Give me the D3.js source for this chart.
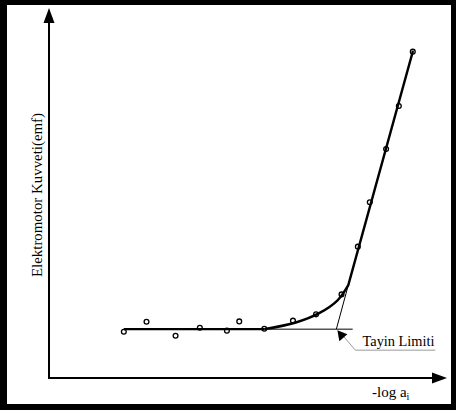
<!DOCTYPE html>
<html>
<head>
<meta charset="utf-8">
<script src="https://cdnjs.cloudflare.com/ajax/libs/d3/7.8.5/d3.min.js"></script>
<style>
body { margin: 0; background: #fff; }
svg { display: block; }
</style>
</head>
<body>
<svg id="chart" width="456" height="410"></svg>
<script>
// measured points (-log a, emf), arbitrary units 0-100
var logA = [18.8, 24.5, 31.8, 37.9, 44.7, 47.8, 54.1, 61.3, 67.1, 73.5, 77.6, 80.6, 84.7, 87.9, 91.4];
var emf  = [12.5, 15.2, 11.4, 13.6, 12.8, 15.3, 13.3, 15.5, 17.2, 22.6, 35.5, 47.5, 61.9, 73.5, 88.2];

// fitted curve pieces
var flatX = [18.8, 54.1];
var flatY = [13.2, 13.2];
var bendX = [54.1, 62.0, 68.0, 72.5, 75.2];
var bendY = [13.2, 15.0, 17.6, 21.0, 25.1];
var slopeX = [75.2, 91.4];
var slopeY = [25.1, 88.2];
// thin construction lines
var baseExtX = [54.1, 76.3];
var tangentX = [75.2, 72.2];
var tangentY = [25.1, 13.2];

var yLabel = "Elektromotor Kuvveti(emf)";
var limitLabel = "Tayin Limiti";

var serif = "'Liberation Serif', 'DejaVu Serif', 'Times New Roman', Times, serif";

var svg = d3.select("#chart");

// frame
svg.append("rect").attr("width", 456).attr("height", 410).attr("fill", "#000");
svg.append("rect").attr("x", 7).attr("y", 5).attr("width", 444).attr("height", 399).attr("fill", "#fff");

var x = d3.scaleLinear().domain([0, 100]).range([49, 447]);
var y = d3.scaleLinear().domain([0, 100]).range([378, 8]);

// axes with arrows
var axisG = svg.append("g");
axisG.append("line")
    .attr("x1", x(0)).attr("y1", y(0))
    .attr("x2", x(0)).attr("y2", y(100) + 12)
    .attr("stroke", "#000").attr("stroke-width", 2);
axisG.append("line")
    .attr("x1", x(0) - 1).attr("y1", y(0))
    .attr("x2", x(100) - 12).attr("y2", y(0))
    .attr("stroke", "#000").attr("stroke-width", 2);
axisG.append("path")
    .attr("d", "M" + x(0) + "," + y(100) + " L" + (x(0) - 5.5) + "," + (y(100) + 15) + " L" + (x(0) + 5.5) + "," + (y(100) + 15) + "Z")
    .attr("fill", "#000");
axisG.append("path")
    .attr("d", "M" + x(100) + "," + y(0) + " L" + (x(100) - 15) + "," + (y(0) - 5.5) + " L" + (x(100) - 15) + "," + (y(0) + 5.5) + "Z")
    .attr("fill", "#000");

// labels
svg.append("text")
    .attr("transform", "translate(" + 42 + "," + 195 + ") rotate(-90)")
    .attr("text-anchor", "middle")
    .attr("font-family", serif)
    .attr("font-size", 15)
    .attr("textLength", 164)
    .attr("lengthAdjust", "spacingAndGlyphs")
    .text(yLabel);

var xl = svg.append("text")
    .attr("x", 372).attr("y", 397)
    .attr("font-family", serif)
    .attr("font-size", 15);
xl.append("tspan").text("-log a");
xl.append("tspan").attr("dy", 3).attr("font-size", 10).text("i");

// circles
svg.selectAll("circle.pt")
    .data(logA)
    .enter()
    .append("circle")
    .attr("class", "pt")
    .attr("cx", function(d) { return x(d); })
    .attr("cy", function(d, i) { return y(emf[i]); })
    .attr("r", 2.4)
    .attr("fill", "#fff")
    .attr("stroke", "#000")
    .attr("stroke-width", 1.3);

// thin lines
svg.append("line")
    .attr("x1", x(baseExtX[0])).attr("y1", y(flatY[0]))
    .attr("x2", x(baseExtX[1])).attr("y2", y(flatY[0]))
    .attr("stroke", "#000").attr("stroke-width", 1);
svg.append("line")
    .attr("x1", x(tangentX[0])).attr("y1", y(tangentY[0]))
    .attr("x2", x(tangentX[1])).attr("y2", y(tangentY[1]))
    .attr("stroke", "#000").attr("stroke-width", 1);

// thick fitted line
var line = d3.line().x(function(d) { return x(d[0]); }).y(function(d) { return y(d[1]); });
var curve = d3.line().curve(d3.curveCatmullRom).x(function(d) { return x(d[0]); }).y(function(d) { return y(d[1]); });

svg.append("path")
    .attr("d", line(d3.zip(flatX, flatY)))
    .attr("fill", "none").attr("stroke", "#000").attr("stroke-width", 2.4);
svg.append("path")
    .attr("d", curve(d3.zip(bendX, bendY)))
    .attr("fill", "none").attr("stroke", "#000").attr("stroke-width", 2.4);
svg.append("path")
    .attr("d", line(d3.zip(slopeX, slopeY)))
    .attr("fill", "none").attr("stroke", "#000").attr("stroke-width", 2.4)
    .attr("stroke-linecap", "round");

// detection limit callout
var tx = x(tangentX[1]) + 1, ty = y(tangentY[1]) + 1;
svg.append("path")
    .attr("d", "M" + (tx + 6) + "," + (ty + 6) + " L" + (tx + 18) + "," + (ty + 20) + " L" + (tx + 98) + "," + (ty + 20))
    .attr("fill", "none").attr("stroke", "#999").attr("stroke-width", 1);
svg.append("path")
    .attr("d", "M" + tx + "," + ty + " L" + (tx + 2) + "," + (ty + 11) + " L" + (tx + 10) + "," + (ty + 4) + "Z")
    .attr("fill", "#000");
svg.append("text")
    .attr("x", 362.5).attr("y", 346)
    .attr("font-family", serif)
    .attr("font-size", 15)
    .attr("textLength", 72)
    .attr("lengthAdjust", "spacingAndGlyphs")
    .text(limitLabel);
</script>
</body>
</html>
